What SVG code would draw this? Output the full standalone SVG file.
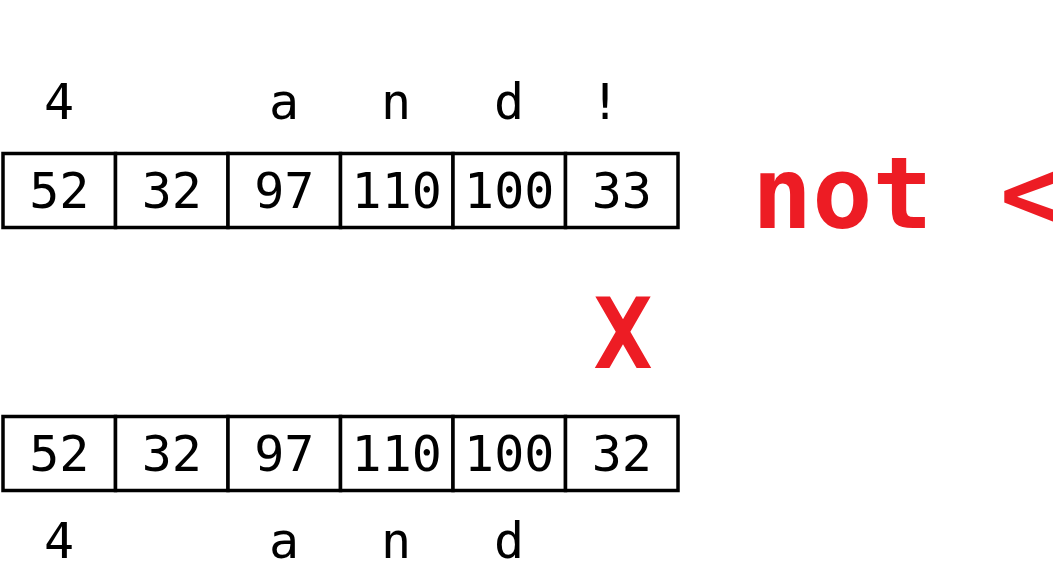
<svg xmlns="http://www.w3.org/2000/svg" width="1053" height="569" viewBox="0 0 1053 569">
<style>
.cell{fill:#fff;stroke:#000;stroke-width:3.5}
.num{font-family:"DejaVu Sans Mono","Liberation Mono",monospace;font-size:50px;fill:#000;text-anchor:middle}
.lbl{font-family:"DejaVu Sans Mono","Liberation Mono",monospace;font-size:50px;fill:#000;text-anchor:middle}
.red{font-family:"DejaVu Sans Mono","Liberation Mono",monospace;font-weight:bold;fill:#ED1C24}
</style>
<rect width="1053" height="569" fill="#fff"/>
<g id="top-labels">
<text class="lbl" x="59" y="119">4</text>
<text class="lbl" x="284" y="119">a</text>
<text class="lbl" x="396" y="119">n</text>
<text class="lbl" x="509" y="119">d</text>
<text class="lbl" x="605" y="119">!</text>
</g>
<g id="top-row">
<rect class="cell" x="3" y="153.5" width="112.5" height="74"/>
<rect class="cell" x="115.5" y="153.5" width="112.5" height="74"/>
<rect class="cell" x="228" y="153.5" width="112.5" height="74"/>
<rect class="cell" x="340.5" y="153.5" width="112.5" height="74"/>
<rect class="cell" x="453" y="153.5" width="112.5" height="74"/>
<rect class="cell" x="565.5" y="153.5" width="112.5" height="74"/>
<text class="num" x="59.25" y="208">52</text>
<text class="num" x="171.75" y="208">32</text>
<text class="num" x="284.25" y="208">97</text>
<text class="num" x="396.75" y="208">110</text>
<text class="num" x="509.25" y="208">100</text>
<text class="num" x="621.75" y="208">33</text>
</g>
<g id="not-label">
<text class="red" x="752" y="228" font-size="100" xml:space="preserve">not <tspan x="1000">&lt;</tspan></text>
</g>
<g id="x-mark">
<text class="red" x="623" y="368" font-size="98" text-anchor="middle">X</text>
</g>
<g id="bottom-row">
<rect class="cell" x="3" y="416.5" width="112.5" height="74"/>
<rect class="cell" x="115.5" y="416.5" width="112.5" height="74"/>
<rect class="cell" x="228" y="416.5" width="112.5" height="74"/>
<rect class="cell" x="340.5" y="416.5" width="112.5" height="74"/>
<rect class="cell" x="453" y="416.5" width="112.5" height="74"/>
<rect class="cell" x="565.5" y="416.5" width="112.5" height="74"/>
<text class="num" x="59.25" y="471">52</text>
<text class="num" x="171.75" y="471">32</text>
<text class="num" x="284.25" y="471">97</text>
<text class="num" x="396.75" y="471">110</text>
<text class="num" x="509.25" y="471">100</text>
<text class="num" x="621.75" y="471">32</text>
</g>
<g id="bottom-labels">
<text class="lbl" x="59" y="558">4</text>
<text class="lbl" x="284" y="558">a</text>
<text class="lbl" x="396" y="558">n</text>
<text class="lbl" x="509" y="558">d</text>
</g>
<g id="connectors"></g>
</svg>
